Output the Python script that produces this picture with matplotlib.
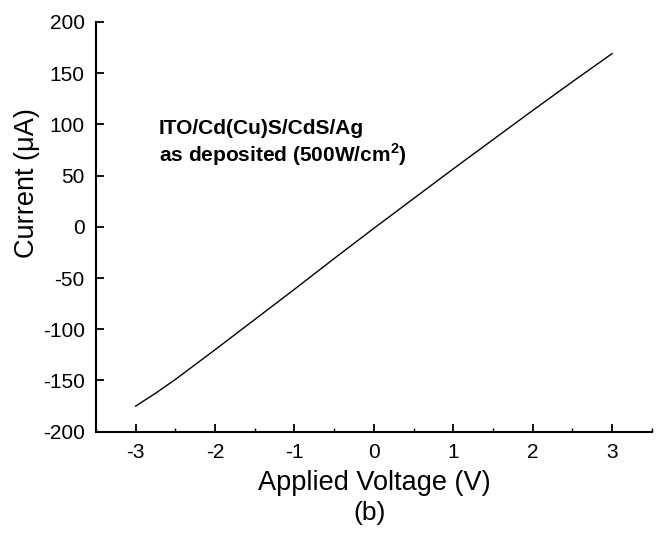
import matplotlib
matplotlib.use("Agg")
import matplotlib.pyplot as plt
from matplotlib.ticker import MultipleLocator

plt.rcParams['font.family'] = ['Liberation Sans', 'DejaVu Sans']
plt.rcParams['mathtext.fontset'] = 'custom'
plt.rcParams['mathtext.rm'] = 'Liberation Sans'
plt.rcParams['mathtext.bf'] = 'Liberation Sans:bold'
plt.rcParams['axes.unicode_minus'] = False

voltage = [-3.0, -2.75, -2.5, -2.0, -1.5, -1.0, -0.5, 0.0, 0.5, 1.0, 1.5, 2.0, 2.5, 3.0]
current = [-175, -162.5, -149, -120, -90.5, -61, -31, -1.5, 27.5, 56.5, 85, 113.5, 141.5, 169]

x_ticks = [-3, -2, -1, 0, 1, 2, 3]
y_ticks = [-200, -150, -100, -50, 0, 50, 100, 150, 200]

fig = plt.figure(figsize=(6.57, 5.33), dpi=100)
ax = fig.add_axes([0.146, 0.19, 0.846, 0.769])

ax.plot(voltage, current, color='black', linewidth=1.0)

ax.set_xlim(-3.5, 3.5)
ax.set_ylim(-200, 200)
ax.set_xticks(x_ticks)
ax.set_yticks(y_ticks)
ax.xaxis.set_minor_locator(MultipleLocator(0.5))

for s in ['top', 'right']:
    ax.spines[s].set_visible(False)
for s in ['left', 'bottom']:
    ax.spines[s].set_linewidth(1.5)

ax.tick_params(axis='both', which='major', direction='in', length=6, width=1.3,
               labelsize=15, pad=8)
ax.tick_params(axis='x', which='minor', direction='in', length=3, width=1.0)

ax.set_xlabel('Applied Voltage (V)', fontsize=19.5)
ax.xaxis.set_label_coords(0.5, -0.124)
ax.xaxis.label.set_va('center')
ax.set_ylabel('Current (\u03bcA)', fontsize=19.5)
ax.yaxis.set_label_coords(-0.124, 0.607)
ax.yaxis.label.set_va('center')

ax.text(-2.71, 96, 'ITO/Cd(Cu)S/CdS/Ag', fontsize=15, fontweight='bold',
        ha='left', va='center')
ax.text(-2.71, 70, r'as deposited (500W/cm$^\mathbf{2}$)', fontsize=15,
        fontweight='bold', ha='left', va='center')

fig.text(370 / 657, 1 - 513 / 533, '(b)', fontsize=19, ha='center', va='center')

fig.savefig('out.png', dpi=100)
